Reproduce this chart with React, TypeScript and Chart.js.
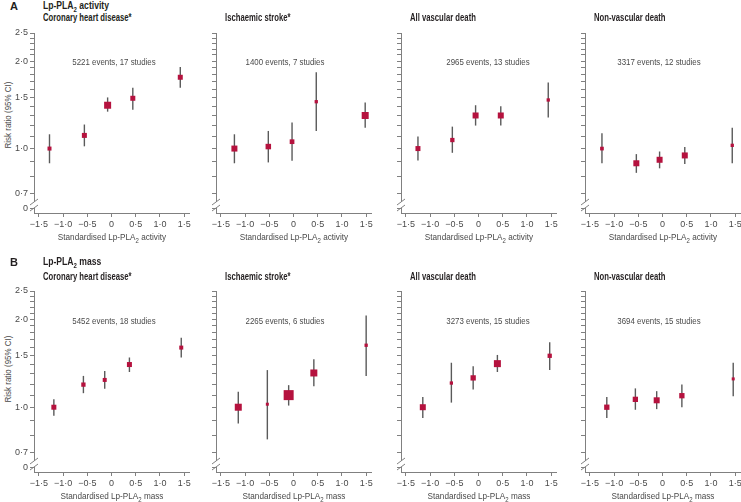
import React, { useEffect, useRef } from 'react';
import { Chart, registerables } from 'chart.js';

Chart.register(...registerables);

// ---------- data ----------
const outcomes = ['Coronary heart disease*', 'Ischaemic stroke*', 'All vascular death', 'Non-vascular death'];
const activityNotes = ['5221 events, 17 studies', '1400 events, 7 studies', '2965 events, 13 studies', '3317 events, 12 studies'];
const massNotes = ['5452 events, 18 studies', '2265 events, 6 studies', '3273 events, 15 studies', '3694 events, 15 studies'];

const xTickValues = [-1.5, -1, -0.5, 0, 0.5, 1, 1.5];
const xTickLabels = ['−1·5', '−1·0', '−0·5', '0', '0·5', '1·0', '1·5'];
const yTickValues = [0.62, 0.7, 0.8, 0.9, 1.0, 1.1, 1.2, 1.3, 1.4, 1.5, 1.6, 1.7, 1.8, 1.9, 2.0, 2.1, 2.2, 2.3, 2.4, 2.5];
const yTickLabels = ['0', '0·7', '', '', '1·0', '', '', '', '', '1·5', '', '', '', '', '2·0', '', '', '', '', '2·5'];

// Lp-PLA2 activity (per outcome: 5 groups)
const activityX = [
  [-1.28, -0.56, -0.08, 0.44, 1.42],
  [-1.22, -0.52, -0.03, 0.47, 1.48],
  [-1.25, -0.54, -0.06, 0.46, 1.44],
  [-1.25, -0.54, -0.06, 0.46, 1.44],
];
const activityRR = [
  [1.0, 1.11, 1.41, 1.49, 1.76],
  [1.0, 1.016, 1.056, 1.45, 1.30],
  [1.0, 1.07, 1.30, 1.30, 1.47],
  [1.0, 0.89, 0.915, 0.947, 1.026],
];
const activityLo = [
  [0.89, 1.018, 1.34, 1.36, 1.62],
  [0.89, 0.896, 0.908, 1.15, 1.18],
  [0.91, 0.967, 1.20, 1.20, 1.28],
  [0.89, 0.825, 0.855, 0.885, 0.89],
];
const activityHi = [
  [1.12, 1.21, 1.50, 1.62, 1.91],
  [1.12, 1.15, 1.23, 1.83, 1.44],
  [1.10, 1.19, 1.41, 1.40, 1.69],
  [1.13, 0.957, 0.977, 1.013, 1.18],
];
const activityWeight = [
  [4, 5, 7, 5, 5],
  [6, 5.5, 4.7, 3.3, 7],
  [5, 4.3, 6, 6, 3.3],
  [3.7, 6, 6, 6, 3.3],
];

// Lp-PLA2 mass
const massX = [
  [-1.19, -0.58, -0.14, 0.37, 1.44],
  [-1.14, -0.54, -0.10, 0.42, 1.50],
  [-1.15, -0.56, -0.11, 0.39, 1.47],
  [-1.15, -0.56, -0.12, 0.40, 1.46],
];
const massRR = [
  [1.0, 1.195, 1.24, 1.40, 1.60],
  [1.0, 1.024, 1.10, 1.31, 1.63],
  [1.0, 1.21, 1.26, 1.41, 1.50],
  [1.0, 1.064, 1.056, 1.095, 1.25],
];
const massLo = [
  [0.935, 1.117, 1.156, 1.32, 1.48],
  [0.88, 0.776, 1.013, 1.18, 1.28],
  [0.918, 1.037, 1.15, 1.32, 1.34],
  [0.918, 0.98, 0.985, 1.0, 1.09],
];
const massHi = [
  [1.064, 1.28, 1.33, 1.48, 1.73],
  [1.13, 1.34, 1.19, 1.46, 2.06],
  [1.083, 1.42, 1.38, 1.51, 1.67],
  [1.083, 1.16, 1.135, 1.195, 1.42],
];
const massWeight = [
  [5, 4.3, 4, 5, 4],
  [7, 3, 10, 7, 3.3],
  [6, 3.3, 5.3, 7, 4.3],
  [5.3, 5.3, 6, 5.3, 3],
];

// ---------- layout & style ----------
const FONT = "'Liberation Sans', Arial, sans-serif";
const RED = '#B5123E';
const BAR = '#5a5a5a';
const AXIS = '#808080';
const TXT = '#4a4a4a';
const HEAD = '#231f20';

const colLefts = [34, 216, 401, 585];
const rowTops = [33, 291];
const rowHeights = [180, 181];
const AREA_W = 155;
const Y_W = 34;
const PAD_T = 8;
const PAD_R = 12;
const X_H = 32;
const noteOffsets = [80, 69, 87, 74];

type PanelProps = {
  row: number;
  col: number;
  xs: number[];
  rr: number[];
  lo: number[];
  hi: number[];
  w: number[];
};

function Panel({ row, col, xs, rr, lo, hi, w }: PanelProps) {
  const ref = useRef<HTMLCanvasElement>(null);
  const cw = Y_W + AREA_W + PAD_R;
  const ch = PAD_T + rowHeights[row] + X_H;
  useEffect(() => {
    const canvas = ref.current;
    if (!canvas) return;
    const errorBars = {
      id: 'errorBars',
      beforeDatasetsDraw(chart: any) {
        const { ctx } = chart;
        const x = chart.scales.x;
        const y = chart.scales.y;
        ctx.save();
        ctx.strokeStyle = BAR;
        ctx.lineWidth = 1.4;
        xs.forEach((v, i) => {
          const px = x.getPixelForValue(v);
          ctx.beginPath();
          ctx.moveTo(px, y.getPixelForValue(lo[i]));
          ctx.lineTo(px, y.getPixelForValue(hi[i]));
          ctx.stroke();
        });
        ctx.restore();
      },
    };
    const axisBreak = {
      id: 'axisBreak',
      afterDraw(chart: any) {
        const { ctx, chartArea } = chart;
        const xa = chartArea.left;
        const yb = chartArea.bottom;
        ctx.save();
        ctx.fillStyle = '#ffffff';
        ctx.fillRect(xa - 2, yb - 11, 4, 6);
        ctx.strokeStyle = AXIS;
        ctx.lineWidth = 1;
        [yb - 11, yb - 5].forEach((c) => {
          ctx.beginPath();
          ctx.moveTo(xa - 4, c + 3);
          ctx.lineTo(xa + 4, c - 3);
          ctx.stroke();
        });
        ctx.restore();
      },
    };
    const tickFont = { family: FONT, size: 9 };
    const chart = new Chart(canvas, {
      type: 'scatter',
      data: {
        datasets: [
          {
            data: xs.map((x, i) => ({ x, y: rr[i] })),
            pointStyle: 'rect',
            pointRadius: w.map((s) => s / Math.SQRT2),
            pointHoverRadius: w.map((s) => s / Math.SQRT2),
            backgroundColor: RED,
            borderColor: RED,
            borderWidth: 0,
          },
        ],
      },
      options: {
        animation: false,
        responsive: false,
        maintainAspectRatio: false,
        devicePixelRatio: 1,
        events: [],
        layout: { padding: { top: PAD_T, right: PAD_R, left: 0, bottom: 0 } },
        plugins: { legend: { display: false }, tooltip: { enabled: false } },
        scales: {
          x: {
            type: 'linear',
            min: -1.6,
            max: 1.6,
            afterBuildTicks: (s: any) => {
              s.ticks = xTickValues.map((v) => ({ value: v }));
            },
            afterFit: (s: any) => {
              s.height = X_H;
            },
            ticks: {
              autoSkip: false,
              maxRotation: 0,
              padding: 2,
              color: TXT,
              font: tickFont,
              callback: (_v: any, i: number) => xTickLabels[i],
            },
            grid: { drawOnChartArea: false, drawTicks: true, tickLength: 4, color: AXIS },
            border: { display: true, color: AXIS, width: 1 },
          },
          y: {
            type: 'logarithmic',
            min: 0.62,
            max: 2.5,
            afterBuildTicks: (s: any) => {
              s.ticks = yTickValues.map((v) => ({ value: v }));
            },
            afterFit: (s: any) => {
              s.width = Y_W;
            },
            ticks: {
              autoSkip: false,
              padding: 2,
              color: TXT,
              font: tickFont,
              callback: (_v: any, i: number) => (col === 0 ? yTickLabels[i] : ''),
            },
            grid: { drawOnChartArea: false, drawTicks: true, tickLength: 4, color: AXIS },
            border: { display: true, color: AXIS, width: 1 },
          },
        },
      } as any,
      plugins: [errorBars, axisBreak],
    });
    return () => chart.destroy();
  }, []);
  return (
    <canvas
      ref={ref}
      width={cw}
      height={ch}
      style={{
        position: 'absolute',
        left: colLefts[col] - Y_W,
        top: rowTops[row] - PAD_T,
        width: cw,
        height: ch,
      }}
    />
  );
}

function Txt(props: {
  x: number;
  y: number;
  children: any;
  bold?: boolean;
  size?: number;
  center?: boolean;
  sx?: number;
}) {
  const { x, y, children, bold, size = 9.5, center, sx = 1 } = props;
  return (
    <div
      style={{
        position: 'absolute',
        left: x,
        top: y - 6,
        height: 12,
        lineHeight: '12px',
        fontFamily: FONT,
        fontSize: size,
        fontWeight: bold ? 700 : 400,
        color: bold ? HEAD : TXT,
        whiteSpace: 'nowrap',
        transformOrigin: center ? 'center center' : 'left center',
        transform: center ? `translateX(-50%) scaleX(${sx})` : `scaleX(${sx})`,
      }}
    >
      {children}
    </div>
  );
}

export default function App() {
  const rows = [
    { letter: 'A', measure: 'activity', xs: activityX, rr: activityRR, lo: activityLo, hi: activityHi, w: activityWeight, notes: activityNotes },
    { letter: 'B', measure: 'mass', xs: massX, rr: massRR, lo: massLo, hi: massHi, w: massWeight, notes: massNotes },
  ];
  const headY = [6, 262];
  const titleY = [18, 277];
  const noteY = [62, 321];
  const yTitleY = [115, 369];
  return (
    <div style={{ position: 'fixed', left: 0, top: 0, width: 741, height: 502, overflow: 'hidden', background: '#fff' }}>
      {rows.map((r, ri) => (
        <React.Fragment key={r.letter}>
          <Txt x={10} y={headY[ri]} bold size={11}>{r.letter}</Txt>
          <Txt x={43} y={headY[ri]} bold size={10} sx={0.86}>
            Lp-PLA<sub style={{ fontSize: 7, lineHeight: 0 }}>2</sub> {r.measure}
          </Txt>
          <div
            style={{
              position: 'absolute',
              left: 7,
              top: yTitleY[ri],
              transform: 'translate(-50%, -50%) rotate(-90deg) scaleX(0.84)',
              fontFamily: FONT,
              fontSize: 9.5,
              color: TXT,
              whiteSpace: 'nowrap',
            }}
          >
            Risk ratio (95% CI)
          </div>
          {outcomes.map((o, ci) => (
            <React.Fragment key={o}>
              <Panel row={ri} col={ci} xs={r.xs[ci]} rr={r.rr[ci]} lo={r.lo[ci]} hi={r.hi[ci]} w={r.w[ci]} />
              <Txt x={colLefts[ci] + 9} y={titleY[ri]} bold size={10} sx={0.77}>{o}</Txt>
              <Txt x={colLefts[ci] + noteOffsets[ci]} y={noteY[ri]} center sx={0.83}>{r.notes[ci]}</Txt>
              <Txt
                x={colLefts[ci] + AREA_W / 2}
                y={rowTops[ri] + rowHeights[ri] + 24}
                center
                sx={0.86}
              >
                Standardised Lp-PLA<sub style={{ fontSize: 7, lineHeight: 0 }}>2</sub> {r.measure}
              </Txt>
            </React.Fragment>
          ))}
        </React.Fragment>
      ))}
    </div>
  );
}
